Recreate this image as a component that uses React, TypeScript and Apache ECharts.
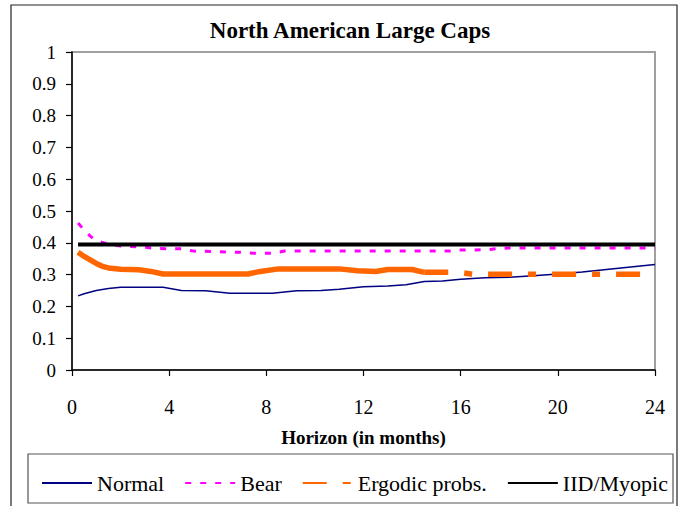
import React, { useEffect, useRef } from "react";
import * as echarts from "echarts";

const xTicks = [0, 4, 8, 12, 16, 20, 24];

const normalX = [0.25, 0.5, 1, 1.5, 2, 3, 3.75, 4.5, 5.5, 6.5, 8.25, 9.25, 10.25, 11, 12, 13, 13.75, 14.5, 15.25, 16, 17, 18, 19, 20, 21, 22, 23, 24];
const normalY = [0.233, 0.24, 0.25, 0.256, 0.26, 0.26, 0.26, 0.25, 0.249, 0.241, 0.241, 0.249, 0.25, 0.254, 0.262, 0.264, 0.268, 0.278, 0.28, 0.285, 0.29, 0.292, 0.296, 0.302, 0.308, 0.316, 0.324, 0.332];

const bearX = [0.25, 0.5, 0.75, 1, 1.5, 2, 3, 3.5, 4.5, 5, 6, 7, 7.5, 8.25, 8.75, 10, 12, 14, 15.5, 16, 17, 17.75, 18, 20, 22, 24];
const bearY = [0.462, 0.44, 0.421, 0.407, 0.395, 0.39, 0.386, 0.382, 0.381, 0.374, 0.372, 0.37, 0.367, 0.367, 0.374, 0.374, 0.374, 0.374, 0.374, 0.377, 0.378, 0.383, 0.384, 0.384, 0.384, 0.384];

const ergodicX = [0.25, 0.5, 0.75, 1, 1.25, 1.5, 2, 2.75, 3.25, 3.75, 7.25, 7.75, 8.5, 11, 11.75, 12.5, 13, 14, 14.5, 16, 16.5, 24];
const ergodicY = [0.37, 0.357, 0.346, 0.335, 0.326, 0.321, 0.317, 0.315, 0.31, 0.302, 0.302, 0.31, 0.318, 0.318, 0.312, 0.31, 0.316, 0.316, 0.307, 0.307, 0.301, 0.301];
// the reference draws the early part of this curve almost solid, the later part dashed
const ergodicSolidUntil = 15;

const iidX = [0.25, 24];
const iidY = [0.395, 0.395];

const seriesNames = ["Normal", "Bear", "Ergodic probs.", "IID/Myopic"];

const zip = (xs: number[], ys: number[]) => xs.map((x, i) => [x, ys[i]]);

const FONT = "Liberation Serif";

export default function App() {
  const ref = useRef<HTMLDivElement>(null);
  useEffect(() => {
    if (!ref.current) return;
    const chart = echarts.init(ref.current, undefined, { renderer: "svg" });
    const ergAll = zip(ergodicX, ergodicY);
    const ergSolid = ergAll.filter((p) => p[0] <= ergodicSolidUntil);
    const ergDashed = ergAll.filter((p, i) => p[0] >= ergodicSolidUntil || (i + 1 < ergAll.length && ergAll[i + 1][0] > ergodicSolidUntil));
    chart.setOption({
      animation: false,
      backgroundColor: "#fff",
      textStyle: { fontFamily: FONT },
      grid: {
        left: 72,
        right: 29,
        top: 52,
        bottom: 136,
        show: true,
        borderColor: "#a0a0a0",
        borderWidth: 2,
      },
      graphic: [
        {
          type: "rect",
          shape: { x: 11, y: 5, width: 666, height: 520 },
          style: { fill: "none", stroke: "#222", lineWidth: 1.2 },
          silent: true,
        },
        {
          type: "rect",
          shape: { x: 28, y: 454, width: 645, height: 49 },
          style: { fill: "none", stroke: "#555", lineWidth: 1.2 },
          silent: true,
        },
        {
          type: "text",
          x: 350,
          y: 30,
          style: {
            text: "North American Large Caps",
            fontFamily: FONT,
            fontSize: 23,
            fontWeight: "bold",
            fill: "#000",
            textAlign: "center",
            textVerticalAlign: "middle",
          },
        },
      ],
      legend: {
        data: seriesNames,
        left: 41,
        top: 472,
        padding: 0,
        itemWidth: 50,
        itemHeight: 14,
        itemGap: 20,
        itemStyle: { opacity: 0 },
        textStyle: { fontFamily: FONT, fontSize: 22, color: "#000" },
      },
      xAxis: {
        type: "value",
        min: 0,
        max: 24,
        interval: 4,
        name: "Horizon (in months)",
        nameLocation: "middle",
        nameGap: 58,
        nameTextStyle: { fontFamily: FONT, fontSize: 19, fontWeight: "bold", color: "#000" },
        axisLine: { show: true, lineStyle: { color: "#000", width: 1.5 } },
        axisTick: { show: true, length: 6, lineStyle: { color: "#000", width: 1.2 } },
        axisLabel: {
          margin: 27,
          fontFamily: FONT,
          fontSize: 20,
          color: "#000",
          formatter: (v: number) => (xTicks.includes(v) ? String(v) : ""),
        },
        splitLine: { show: false },
      },
      yAxis: {
        type: "value",
        min: 0,
        max: 1,
        interval: 0.1,
        axisLine: { show: true, lineStyle: { color: "#000", width: 1.5 } },
        axisTick: { show: true, length: 6, lineStyle: { color: "#000", width: 1.2 } },
        axisLabel: {
          margin: 16,
          fontFamily: FONT,
          fontSize: 19,
          color: "#000",
          formatter: (v: number) => String(Math.round(v * 10) / 10),
        },
        splitLine: { show: false },
      },
      series: [
        {
          name: "Normal",
          type: "line",
          data: zip(normalX, normalY),
          symbol: "none",
          lineStyle: { color: "#000080", width: 1.5 },
          itemStyle: { color: "#000080" },
          z: 3,
        },
        {
          name: "Bear",
          type: "line",
          data: zip(bearX, bearY),
          symbol: "none",
          lineStyle: { color: "#FF00FF", width: 3, type: [6, 9] },
          itemStyle: { color: "#FF00FF" },
          z: 4,
        },
        {
          name: "Ergodic probs.",
          type: "line",
          data: ergDashed,
          symbol: "none",
          lineStyle: { color: "#FF6600", width: 5.5, type: [24, 16, 8, 16] },
          itemStyle: { color: "#FF6600" },
          z: 5,
        },
        {
          name: "Ergodic probs.",
          type: "line",
          data: ergSolid,
          symbol: "none",
          lineStyle: { color: "#FF6600", width: 5.5 },
          itemStyle: { color: "#FF6600" },
          z: 5,
        },
        {
          name: "IID/Myopic",
          type: "line",
          data: zip(iidX, iidY),
          symbol: "none",
          lineStyle: { color: "#000", width: 4 },
          itemStyle: { color: "#000" },
          z: 6,
        },
      ],
    });
    return () => chart.dispose();
  }, []);
  return <div ref={ref} style={{ width: 684, height: 506, position: "absolute", left: 0, top: 0 }} />;
}
